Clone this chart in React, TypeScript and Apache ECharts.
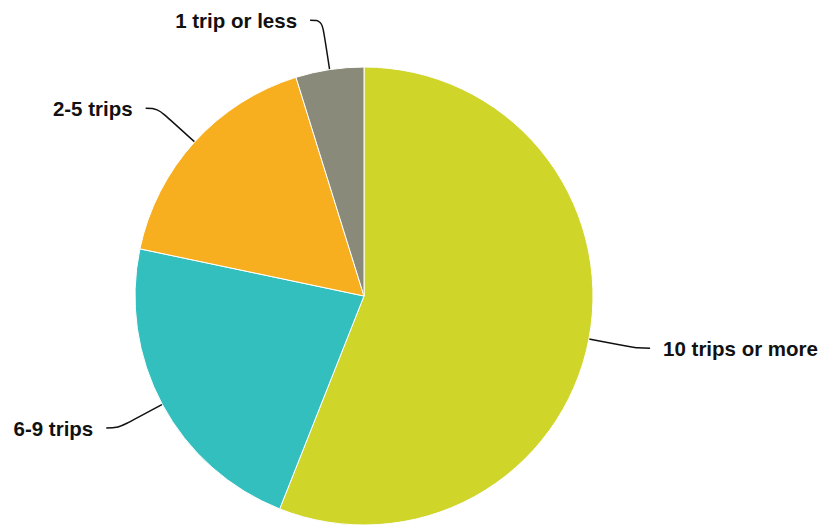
import React, { useEffect, useRef } from "react";
import * as echarts from "echarts";

const categories = ["10 trips or more", "6-9 trips", "2-5 trips", "1 trip or less"];
const values = [56, 22.3, 16.9, 4.8];
const colors = ["#CFD529", "#34BFBF", "#F7AF1F", "#8A8A7A"];

export default function App() {
  const ref = useRef<HTMLDivElement>(null);
  useEffect(() => {
    if (!ref.current) return;
    const chart = echarts.init(ref.current, undefined, { renderer: "svg" });
    chart.setOption({
      animation: false,
      backgroundColor: "#ffffff",
      series: [
        {
          type: "pie",
          center: [364, 296],
          radius: 229,
          startAngle: 90,
          clockwise: true,
          avoidLabelOverlap: false,
          data: categories.map((name, i) => ({
            name,
            value: values[i],
            itemStyle: { color: colors[i] },
          })),
          itemStyle: { borderColor: "#ffffff", borderWidth: 1 },
          label: {
            show: true,
            formatter: "{b}",
            color: "#111111",
            fontSize: 20.5,
            fontWeight: "bold",
            fontFamily: "Liberation Sans, Arial, sans-serif",
            distanceToLabelLine: 13,
          },
          labelLine: {
            show: true,
            length: 50,
            length2: 12,
            smooth: 0.4,
            lineStyle: { color: "#111111", width: 1.5 },
          },
          emphasis: { disabled: true },
        },
      ],
    });
    return () => chart.dispose();
  }, []);
  return (
    <div
      ref={ref}
      style={{ position: "fixed", left: 0, top: 0, width: 825, height: 527 }}
    />
  );
}
